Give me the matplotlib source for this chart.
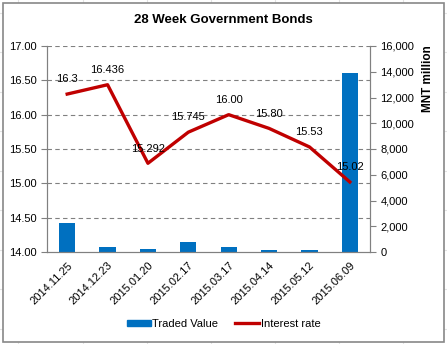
import matplotlib
matplotlib.use("Agg")
from matplotlib import pyplot as plt
from matplotlib.patches import Rectangle, Patch
from matplotlib.lines import Line2D
from matplotlib.ticker import FuncFormatter

dates = ["2014.11.25", "2014.12.23", "2015.01.20", "2015.02.17",
         "2015.03.17", "2015.04.14", "2015.05.12", "2015.06.09"]
traded_value = [2230, 410, 230, 780, 410, 160, 150, 13900]  # MNT million
interest_rate = [16.3, 16.436, 15.292, 15.745, 16.00, 15.80, 15.53, 15.02]
rate_labels = ["16.3", "16.436", "15.292", "15.745", "16.00", "15.80", "15.53", "15.02"]

plt.rcParams['font.family'] = ['Liberation Sans', 'DejaVu Sans']

W, H = 447, 344
fig = plt.figure(figsize=(W / 100, H / 100), dpi=100)

# faint spreadsheet grid behind the chart
for gx in [18, 83, 147, 211, 275, 339, 403]:
    fig.add_artist(Line2D([gx / W, gx / W], [0, 1], color='#e3e3e3', lw=0.8, zorder=-3))
for gy in [13, 52, 92, 131, 171, 210, 250, 289, 329]:
    fig.add_artist(Line2D([0, 1], [1 - gy / H, 1 - gy / H], color='#e3e3e3', lw=0.8, zorder=-3))
fig.add_artist(Rectangle((3 / W, 1 - 342 / H), 441 / W, 339 / H, transform=fig.transFigure,
                         facecolor='white', edgecolor='#888888', lw=1.2, zorder=-2))

ax2 = fig.add_axes([47 / W, 1 - 252 / H, 323 / W, 206 / H])
ax = ax2.twinx()
ax2.yaxis.tick_right()
ax2.yaxis.set_label_position("right")
ax.yaxis.tick_left()
ax.yaxis.set_label_position("left")

x = list(range(len(dates)))

# bars on right axis
ax2.bar(x, traded_value, width=0.4, color='#0070C0', zorder=2)
ax2.set_ylim(0, 16000)
ax2.set_yticks(range(0, 16001, 2000))
ax2.yaxis.set_major_formatter(FuncFormatter(lambda v, p: f"{int(v):,}"))
ax2.set_ylabel("MNT million", fontsize=8.5, fontweight='bold')
ax2.yaxis.set_label_coords(1.161, 0.84)
ax2.set_xlim(-0.5, len(dates) - 0.5)

# gridlines follow the left axis
for g in [14.5, 15.0, 15.5, 16.0, 16.5, 17.0]:
    ax2.axhline((g - 14) / 3 * 16000, color='#808080', ls=(0, (4, 3)), lw=0.8, zorder=1)

# line on left axis
ax.plot(x, interest_rate, color='#C00000', lw=2.4, zorder=3)
ax.set_ylim(14, 17)
ax.set_yticks([14, 14.5, 15, 15.5, 16, 16.5, 17])
ax.yaxis.set_major_formatter(FuncFormatter(lambda v, p: f"{v:.2f}"))
for xi, yi, lab in zip(x, interest_rate, rate_labels):
    ax.annotate(lab, (xi, yi), xytext=(0, 7), textcoords='offset points',
                ha='center', va='bottom', fontsize=8)

ax2.set_xticks([i + 0.5 for i in range(-1, len(dates))], minor=False)
ax2.set_xticklabels([])
ax2.set_xticks(x, minor=True)
ax2.set_xticklabels(dates, minor=True, rotation=45, ha='right', rotation_mode='anchor', fontsize=8)
ax2.tick_params(axis='x', which='minor', length=0, pad=6)
ax2.tick_params(axis='x', which='major', length=4, color='#808080', direction='out')
ax.set_xticks([])

for a in (ax, ax2):
    a.spines['top'].set_visible(False)
    for s in ('left', 'right', 'bottom'):
        a.spines[s].set_color('#808080')
    a.set_facecolor('none')
ax2.tick_params(axis='y', labelsize=8, length=4, color='#808080')
ax.tick_params(axis='y', labelsize=8, length=4, color='#808080')

fig.text(0.5, 1 - 20 / H, "28 Week Government Bonds", ha='center', va='center',
         fontsize=9.5, fontweight='bold')

handles = [Patch(color='#0070C0'), Line2D([0], [0], color='#C00000', lw=2.4)]
fig.legend(handles, ["Traded Value", "Interest rate"], loc='center',
           bbox_to_anchor=(0.5, 1 - 324 / H), ncol=2, frameon=False, fontsize=8,
           handlelength=2.2, handleheight=0.5, handletextpad=0.1, columnspacing=1.5)

fig.savefig("out.png", dpi=100)
